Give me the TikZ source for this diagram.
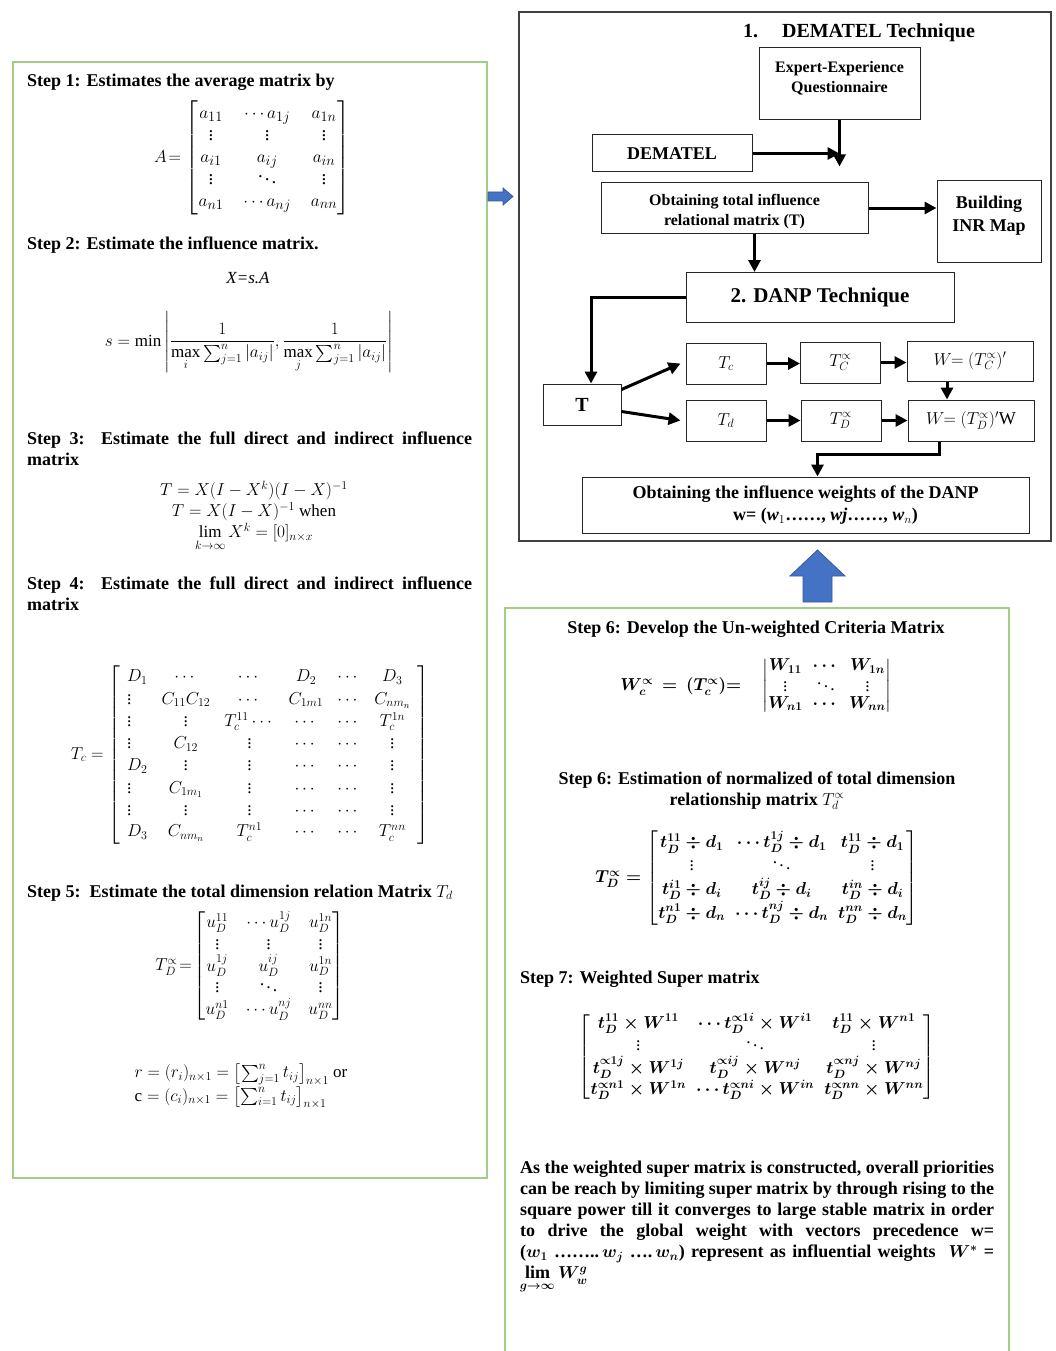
\documentclass[tikz,border=0pt]{standalone}
\usepackage{amsmath,amssymb}
\usepackage{fontspec}
\setmainfont{Liberation Serif}
\usetikzlibrary{positioning,arrows.meta}
\definecolor{panelgreen}{RGB}{163,205,135}
\definecolor{arrblue}{RGB}{68,114,196}
\tikzset{
  panel/.style={draw=panelgreen, line width=1.6pt},
  frame/.style={draw=black!75, line width=1.5pt},
  blk/.style={rectangle, draw=black!85, line width=1pt, fill=white, align=center,
              inner sep=2pt, font=\fontsize{16}{20}\selectfont\bfseries},
  mblk/.style={blk, minimum width=80pt, minimum height=41pt, font=\fontsize{18}{21}\selectfont},
  flowarr/.style={-{Triangle[length=12pt,width=12pt]}, line width=3pt},
  head/.style={anchor=base west, inner sep=0pt, font=\fontsize{18}{21}\selectfont\bfseries},
  eqn/.style={inner sep=0pt, font=\fontsize{17}{21}\selectfont},
  mat/.style={inner sep=0pt, font=\fontsize{19}{21.5}\selectfont},
  eqnb/.style={inner sep=0pt, font=\fontsize{17.5}{21}\selectfont\boldmath},
  rowsep/.style={execute at begin node={\def\arraystretch{#1}}},
  colsep/.style={execute at begin node={\setlength{\arraycolsep}{#1}}},
  blockarr/.style={fill=arrblue, draw=arrblue!80!black, line width=0.8pt},
}

\begin{document}
\begin{tikzpicture}[x=1pt,y=-1pt]
\useasboundingbox (0,0) rectangle (1056,1351);
% panels
\draw[panel] (13,62) rectangle (487,1178);
\draw[frame] (519,12) rectangle (1051,541);
\draw[panel] (505,1352) |- (1009,608) -- (1009,1352);
\path[blockarr] (488,192) -- (503,192) -- (503,188) -- (513,196.5) -- (503,205) -- (503,201) -- (488,201) -- cycle;
\path[blockarr] (817.5,550) -- (845,576) -- (832,576) -- (832,602) -- (803,602) -- (803,576) -- (790,576) -- cycle;

% left panel: DEMATEL steps
\node[head] (s1) at (27,87) {Step 1: Estimates the average matrix by};
\node[mat, colsep=10pt] (amat) at (252,158) {$A\!=\begin{bmatrix} a_{11} & \cdots a_{1j} & a_{1n}\\ \vdots & \vdots & \vdots\\ a_{i1} & a_{ij} & a_{in}\\ \vdots & \ddots & \vdots\\ a_{n1} & \cdots a_{nj} & a_{nn}\end{bmatrix}$};
\node[head] (s2) at (27,249) {Step 2: Estimate the influence matrix.};
\node[eqn] (xsa) at (248,278) {\textit{X=s.A}};
\node[eqn] (smin) at (249,342) {$s=\min\left|\dfrac{1}{\max\limits_{i}\sum_{j=1}^{n}|a_{ij}|},\dfrac{1}{\max\limits_{j}\sum_{j=1}^{n}|a_{ij}|}\right|$};
\node[head, text width=445pt, align=justify] (s3) at (27,444) {Step 3:\ \ Estimate the full direct and indirect influence\linebreak matrix};
\node[eqn, align=center] (s3eq) at (254,516) {$T=X(I-X^{k})(I-X)^{-1}$\\ $T=X(I-X)^{-1}$ when\\ $\lim\limits_{k\to\infty}X^{k}=[0]_{n\times x}$};
\node[head, text width=445pt, align=justify] (s4) at (27,589) {Step 4:\ \ Estimate the full direct and indirect influence\linebreak matrix};
\node[eqn, font=\fontsize{17.5}{21.5}\selectfont, colsep=7pt] (tcmat) at (250,755) {$T_c=\left[\begin{array}{lccccc}
 D_1 & \cdots & \cdots & D_2 & \cdots & D_3\\
 \vdots & C_{11}C_{12} & \cdots & C_{1m1} & \cdots & C_{nm_n}\\
 \vdots & \vdots & T_c^{11}\cdots & \cdots & \cdots & T_c^{1n}\\
 \vdots & C_{12} & \vdots & \cdots & \cdots & \vdots\\
 D_2 & \vdots & \vdots & \cdots & \cdots & \vdots\\
 \vdots & C_{1m_1} & \vdots & \cdots & \cdots & \vdots\\
 \vdots & \vdots & \vdots & \cdots & \cdots & \vdots\\
 D_3 & C_{nm_n} & T_c^{n1} & \cdots & \cdots & T_c^{nn}
\end{array}\right]$};
\node[head] (s5) at (27,897) {Step 5:\ \ Estimate the total dimension relation Matrix $T_d$};
\node[mat, colsep=8.5pt, font=\fontsize{18}{19.5}\selectfont] (tdmat) at (250,966) {$T_D^{\propto}\!=\!\begin{bmatrix} u_D^{11} & \cdots u_D^{1j} & u_D^{1n}\\ \vdots & \vdots & \vdots\\ u_D^{1j} & u_D^{ij} & u_D^{1n}\\ \vdots & \ddots & \vdots\\ u_D^{n1} & \cdots u_D^{nj} & u_D^{nn}\end{bmatrix}$};
\node[eqn, align=left] (rc) at (241,1086) {$r=(r_i)_{n\times1}=\bigl[\sum_{j=1}^{n}t_{ij}\bigr]_{n\times1}$ or\\ $\mathrm{c}=(c_i)_{n\times1}=\bigl[\sum_{i=1}^{n}t_{ij}\bigr]_{n\times1}$};

% top right: flowchart
\node[font=\fontsize{20}{24}\selectfont\bfseries, inner sep=0pt] (dtitle) at (859,33) {1.\hspace{1.2em}DEMATEL Technique};
\node[blk, minimum width=161pt, minimum height=72pt, text depth=15pt] (expert) at (839.5,84) {Expert-Experience\\ Questionnaire};
\node[blk, minimum width=160pt, minimum height=37pt, font=\fontsize{18}{21}\selectfont\bfseries] (dematel) at (672,153.5) {DEMATEL};
\node[blk, minimum width=267pt, minimum height=50pt] (totinf) at (734.5,208) {\rule{0pt}{18pt}Obtaining total influence\\ relational matrix (T)};
\node[blk, minimum width=104pt, minimum height=81pt, text depth=16pt, font=\fontsize{18}{23}\selectfont\bfseries] (inrmap) at (989,221.5) {Building\\ INR Map};
\node[blk, minimum width=268pt, minimum height=50pt, font=\fontsize{21}{24}\selectfont\bfseries] (danp) at (820,297.5) {2. DANP Technique};
\node[blk, minimum width=78pt, minimum height=41pt, font=\fontsize{20}{24}\selectfont\bfseries] (tbox) at (582,404.5) {T};
\node[mblk] (tc) at (726,363.5) {$T_c$};
\node[mblk] (tcp) at (840.5,362.5) {$T_C^{\propto}$};
\node[mblk, minimum width=126pt, minimum height=40pt] (wc) at (970,361) {$W\!\!=(T_C^{\propto})'$};
\node[mblk] (td) at (726,420.5) {$T_d$};
\node[mblk] (tdp) at (841,420.5) {$T_D^{\propto}$};
\node[mblk, minimum width=126pt] (wd) at (971,420.5) {$W\!\!=(T_D^{\propto})'$W};
\node[blk, minimum width=447pt, minimum height=56pt, font=\fontsize{18}{22}\selectfont\bfseries] (final) at (805.5,505) {Obtaining the influence weights of the DANP\\ \hspace*{40pt}w= (\textit{w}$_{1}$……, \textit{wj}……, \textit{w}$_{n}$)};

\draw[flowarr, shorten >=16pt] (expert.south) -- (expert.south |- totinf.north);
\draw[flowarr] (dematel.east) -- (dematel.east -| expert.south);
\draw[flowarr] (totinf.east) -- (totinf.east -| inrmap.west);
\draw[flowarr] ([xshift=20pt]totinf.south) -- ([xshift=20pt]totinf.south |- danp.north);
\draw[flowarr] (danp.west) -| ([xshift=9pt]tbox.north);
\draw[flowarr] ([yshift=15pt]tbox.east) -- ([xshift=-5pt]tc.west);
\draw[flowarr] ([yshift=-7pt]tbox.east) -- ([xshift=-5pt]td.west);
\foreach \a/\b in {tc/tcp,tcp/wc,td/tdp,tdp/wd}
  \draw[flowarr] (\a.east) -- (\a.east -| \b.west);
\draw[flowarr] ([xshift=-23pt]wc.south) -- ([xshift=-23pt]wc.south |- wd.north);
\draw[flowarr] ([xshift=-32pt]wd.south) -- ++(0,13) -| ([xshift=12pt]final.north);

% bottom right: DANP steps
\node[head, anchor=base] (s6a) at (756,633) {Step 6: Develop the Un-weighted Criteria Matrix};
\node[eqnb, rowsep=0.8] (wcmat) at (756,686) {$W_c^{\propto}\,=\,(T_c^{\propto}){=}\quad\begin{vmatrix} W_{11} & \cdots & W_{1n}\\ \vdots & \ddots & \vdots\\ W_{n1} & \cdots & W_{nn}\end{vmatrix}$};
\node[head, anchor=base, align=center] (s6b) at (757,805) {Step 6: Estimation of normalized of total dimension\\ relationship matrix $T_d^{\propto}$};
\node[eqnb, rowsep=1.1] (tdnorm) at (757,878) {$T_D^{\propto}=\begin{bmatrix} t_D^{11}\div d_1 & \cdots t_D^{1j}\div d_1 & t_D^{11}\div d_1\\ \vdots & \ddots & \vdots\\ t_D^{i1}\div d_i & t_D^{ij}\div d_i & t_D^{in}\div d_i\\ t_D^{n1}\div d_n & \cdots t_D^{nj}\div d_n & t_D^{nn}\div d_n\end{bmatrix}$};
\node[head] (s7) at (520,983) {Step 7: Weighted Super matrix};
\node[eqnb] (supmat) at (757,1057) {$\begin{bmatrix} t_D^{11}\times W^{11} & \cdots t_D^{\propto 1i}\times W^{i1} & t_D^{11}\times W^{n1}\\ \vdots & \ddots & \vdots\\ t_D^{\propto 1j}\times W^{1j} & t_D^{\propto ij}\times W^{nj} & t_D^{\propto nj}\times W^{nj}\\ t_D^{\propto n1}\times W^{1n} & \cdots t_D^{\propto ni}\times W^{in} & t_D^{\propto nn}\times W^{nn}\end{bmatrix}$};
\node[head, anchor=north west, text width=474pt, align=justify, font=\fontsize{18}{21}\selectfont\bfseries\boldmath] (para) at (520,1161) {As the weighted super matrix is constructed, overall priorities\linebreak can be reach by limiting super matrix by through rising to the\linebreak square power till it converges to large stable matrix in order\linebreak to drive the global weight with vectors precedence w=\linebreak ($w_1$ ……..\,$w_j$ ….\,$w_n$) represent as influential weights\ \ $W^{*}$ =\linebreak $\lim\limits_{g\to\infty}W_w^{g}$};
\end{tikzpicture}
\end{document}
